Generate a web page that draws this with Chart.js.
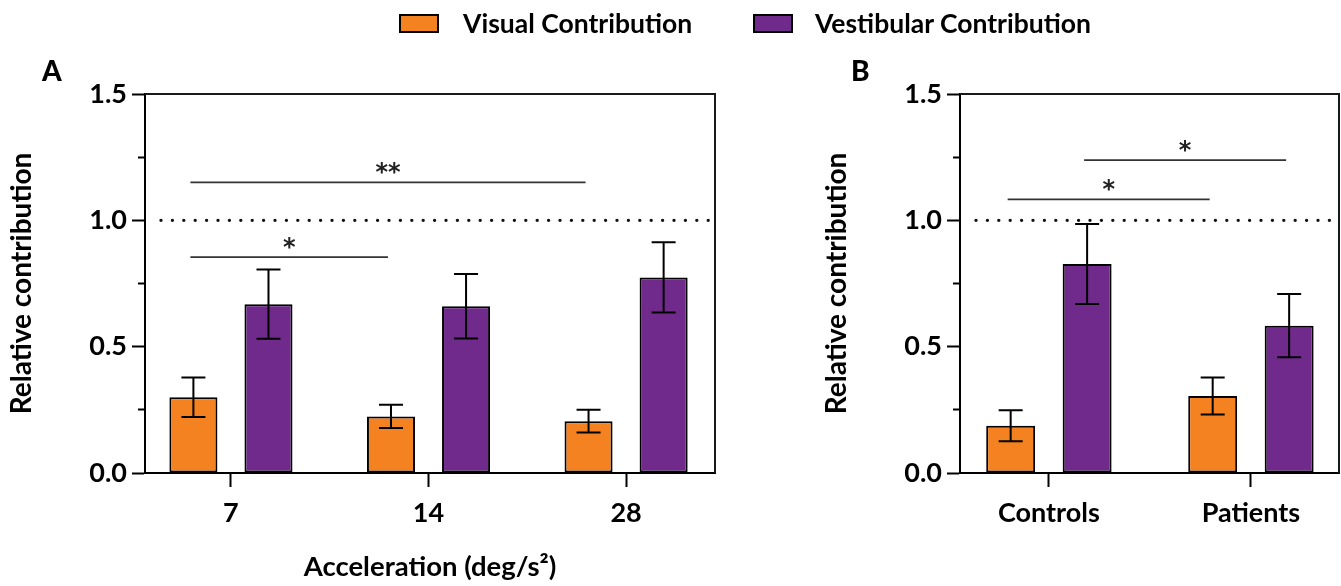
<!DOCTYPE html>
<html>
<head>
<meta charset="utf-8">
<script src="https://cdn.jsdelivr.net/npm/chart.js@4.4.1/dist/chart.umd.min.js"></script>
<style>
  body { margin: 0; background: #fff; }
  #wrap { position: relative; width: 1341px; height: 586px; overflow: hidden; font-family: Lato, sans-serif; font-weight: 700; color: #000; }
  #chartA { position: absolute; left: 0; top: 0; }
  #chartB { position: absolute; left: 800px; top: 0; }
  .panel { position: absolute; font-size: 28px; line-height: 28px; font-weight: 900; }
  .legend-box { position: absolute; top: 14px; width: 36px; height: 15px; border: 2px solid #000; }
  .legend-text { position: absolute; top: 10px; font-size: 26.5px; line-height: 26px; white-space: nowrap; }
</style>
</head>
<body>
<div id="wrap">
  <canvas id="chartA" width="730" height="586"></canvas>
  <canvas id="chartB" width="541" height="586"></canvas>
  <div class="legend-box" style="left:399px; background:#F58220;"></div>
  <div class="legend-text" style="left:463px;">Visual Contribution</div>
  <div class="legend-box" style="left:753px; background:#702A8C;"></div>
  <div class="legend-text" style="left:815px;">Vestibular Contribution</div>
  <div class="panel" style="left:42px; top:56px;">A</div>
  <div class="panel" style="left:851px; top:56px;">B</div>
</div>
<script>
// panel A: acceleration (deg/s^2)
const xLabelsA = ['7', '14', '28'];
const visualA = [0.300, 0.224, 0.205];
const visualErrA = [0.078, 0.046, 0.045];
const vestibularA = [0.668, 0.660, 0.774];
const vestibularErrA = [0.137, 0.128, 0.139];

// panel B: groups
const xLabelsB = ['Controls', 'Patients'];
const visualB = [0.187, 0.305];
const visualErrB = [0.061, 0.073];
const vestibularB = [0.827, 0.583];
const vestibularErrB = [0.158, 0.125];

const yMajorTicks = [0, 0.5, 1.0, 1.5];
const referenceLevel = 1.0;

// significance brackets: [datasetIndex, barIndex] -> [datasetIndex, barIndex]
const sigA = [
  { from: [0, 0], to: [0, 2], level: 1.15, text: '**' },
  { from: [0, 0], to: [0, 1], level: 0.854, text: '*' }
];
const sigB = [
  { from: [0, 0], to: [0, 1], level: 1.083, text: '*' },
  { from: [1, 0], to: [1, 1], level: 1.238, text: '*' }
];

const ORANGE = '#F58220';
const PURPLE = '#702A8C';
const FONT = 'Lato';

const panelDecor = {
  id: 'panelDecor',
  beforeDatasetsDraw(chart) {
    const { ctx, chartArea } = chart;
    const y = chart.scales.y.getPixelForValue(referenceLevel);
    ctx.save();
    ctx.strokeStyle = '#111';
    ctx.lineWidth = 3.4;
    ctx.lineCap = 'round';
    ctx.setLineDash([0, 11.4]);
    ctx.beginPath();
    ctx.moveTo(chartArea.left + 16, y);
    ctx.lineTo(chartArea.right - 6, y);
    ctx.stroke();
    ctx.restore();
  },
  afterDatasetsDraw(chart, args, opts) {
    const { ctx, chartArea } = chart;
    const yScale = chart.scales.y;
    ctx.save();
    // error bars
    ctx.strokeStyle = '#000';
    ctx.lineWidth = 2;
    chart.data.datasets.forEach((ds, di) => {
      const meta = chart.getDatasetMeta(di);
      meta.data.forEach((bar, i) => {
        const m = ds.data[i].y;
        const e = ds.errors[i];
        const yt = yScale.getPixelForValue(m + e);
        const yb = yScale.getPixelForValue(m - e);
        ctx.beginPath();
        ctx.moveTo(bar.x, yt); ctx.lineTo(bar.x, yb);
        ctx.moveTo(bar.x - 12, yt); ctx.lineTo(bar.x + 12, yt);
        ctx.moveTo(bar.x - 12, yb); ctx.lineTo(bar.x + 12, yb);
        ctx.stroke();
      });
    });
    // frame (top + right)
    ctx.strokeStyle = '#1a1a1a';
    ctx.lineWidth = 2;
    ctx.beginPath();
    ctx.moveTo(chartArea.left, chartArea.top);
    ctx.lineTo(chartArea.right, chartArea.top);
    ctx.lineTo(chartArea.right, chartArea.bottom);
    ctx.stroke();
    // significance lines
    (opts.sig || []).forEach(s => {
      const x1 = chart.getDatasetMeta(s.from[0]).data[s.from[1]].x;
      const x2 = chart.getDatasetMeta(s.to[0]).data[s.to[1]].x;
      const y = yScale.getPixelForValue(s.level);
      ctx.strokeStyle = '#333';
      ctx.lineWidth = 1.8;
      ctx.beginPath();
      ctx.moveTo(x1 - 3, y); ctx.lineTo(x2 - 3, y);
      ctx.stroke();
      ctx.fillStyle = '#222';
      ctx.font = 'bold 24px "DejaVu Sans"';
      ctx.textAlign = 'center';
      ctx.textBaseline = 'alphabetic';
      const m = ctx.measureText(s.text);
      const cy = y - 14;
      ctx.fillText(s.text, (x1 + x2) / 2 - 3, cy + (m.actualBoundingBoxAscent - m.actualBoundingBoxDescent) / 2);
    });
    ctx.restore();
  }
};

function makeChart(id, labels, visual, visualErr, vest, vestErr, cfg) {
  let canvas = document.getElementById(id);
  let ctx = canvas.getContext('2d');
  let datasets = [
    {
      label: 'Visual Contribution',
      data: visual.map((v, i) => ({ x: i, y: v })),
      errors: visualErr,
      backgroundColor: ORANGE,
      borderColor: '#000',
      borderWidth: 2,
      borderSkipped: false,
      categoryPercentage: cfg.catPct,
      barPercentage: 0.64
    },
    {
      label: 'Vestibular Contribution',
      data: vest.map((v, i) => ({ x: i, y: v })),
      errors: vestErr,
      backgroundColor: PURPLE,
      borderColor: '#000',
      borderWidth: 2,
      borderSkipped: false,
      categoryPercentage: cfg.catPct,
      barPercentage: 0.64
    }
  ];
  return new Chart(ctx, {
    type: 'bar',
    data: { datasets: datasets },
    options: {
      responsive: false,
      animation: false,
      events: [],
      layout: { padding: { top: 94, right: cfg.padRight, bottom: 0, left: 0 } },
      plugins: {
        legend: { display: false },
        tooltip: { enabled: false },
        panelDecor: { sig: cfg.sig }
      },
      scales: {
        x: {
          type: 'linear',
          min: cfg.xMin,
          max: cfg.xMax,
          bounds: 'data',
          offset: false,
          afterBuildTicks: s => { s.ticks = labels.map((l, i) => ({ value: i })); },
          afterFit: s => { s.height = 113; },
          ticks: {
            autoSkip: false,
            maxRotation: 0,
            padding: 10,
            color: '#000',
            font: { family: FONT, weight: 'bold', size: 27 },
            callback: v => labels[v] !== undefined ? labels[v] : ''
          },
          grid: { offset: false, drawOnChartArea: false, drawTicks: true, tickLength: 14, tickWidth: 2, tickColor: '#000' },
          border: { color: '#000', width: 2 },
          title: {
            display: !!cfg.xTitle,
            text: cfg.xTitle || '',
            color: '#000',
            font: { family: FONT, weight: 'bold', size: 27.5 },
            padding: { top: 4, bottom: 2 }
          }
        },
        y: {
          min: 0,
          max: 1.5,
          afterFit: s => { s.width = cfg.yWidth; },
          ticks: {
            stepSize: 0.25,
            autoSkip: false,
            padding: 5,
            color: '#000',
            font: { family: FONT, weight: 'bold', size: 27 },
            callback: v => yMajorTicks.includes(v) ? v.toFixed(1) : ''
          },
          grid: {
            drawOnChartArea: false,
            drawTicks: true,
            tickLength: 13,
            tickWidth: 2,
            tickColor: '#000',
            tickBorderDash: c => (c.tick && yMajorTicks.includes(c.tick.value)) ? [] : [0, 6, 7, 0]
          },
          border: { color: '#000', width: 2 },
          title: {
            display: true,
            text: 'Relative contribution',
            color: '#000',
            font: { family: FONT, weight: 'bold', size: 28 },
            padding: { top: cfg.yTitlePad, bottom: 0 }
          }
        }
      }
    },
    plugins: [panelDecor]
  });
}

makeChart('chartA', xLabelsA, visualA, visualErrA, vestibularA, vestibularErrA, {
  xMin: -0.435, xMax: 2.45, catPct: 0.76, padRight: 15, yWidth: 145, yTitlePad: 5.5,
  xTitle: 'Acceleration (deg/s²)', sig: sigA
});
makeChart('chartB', xLabelsB, visualB, visualErrB, vestibularB, vestibularErrB, {
  xMin: -0.44, xMax: 1.436, catPct: 0.757, padRight: 2, yWidth: 160, yTitlePad: 20.5,
  xTitle: null, sig: sigB
});
</script>
</body>
</html>
